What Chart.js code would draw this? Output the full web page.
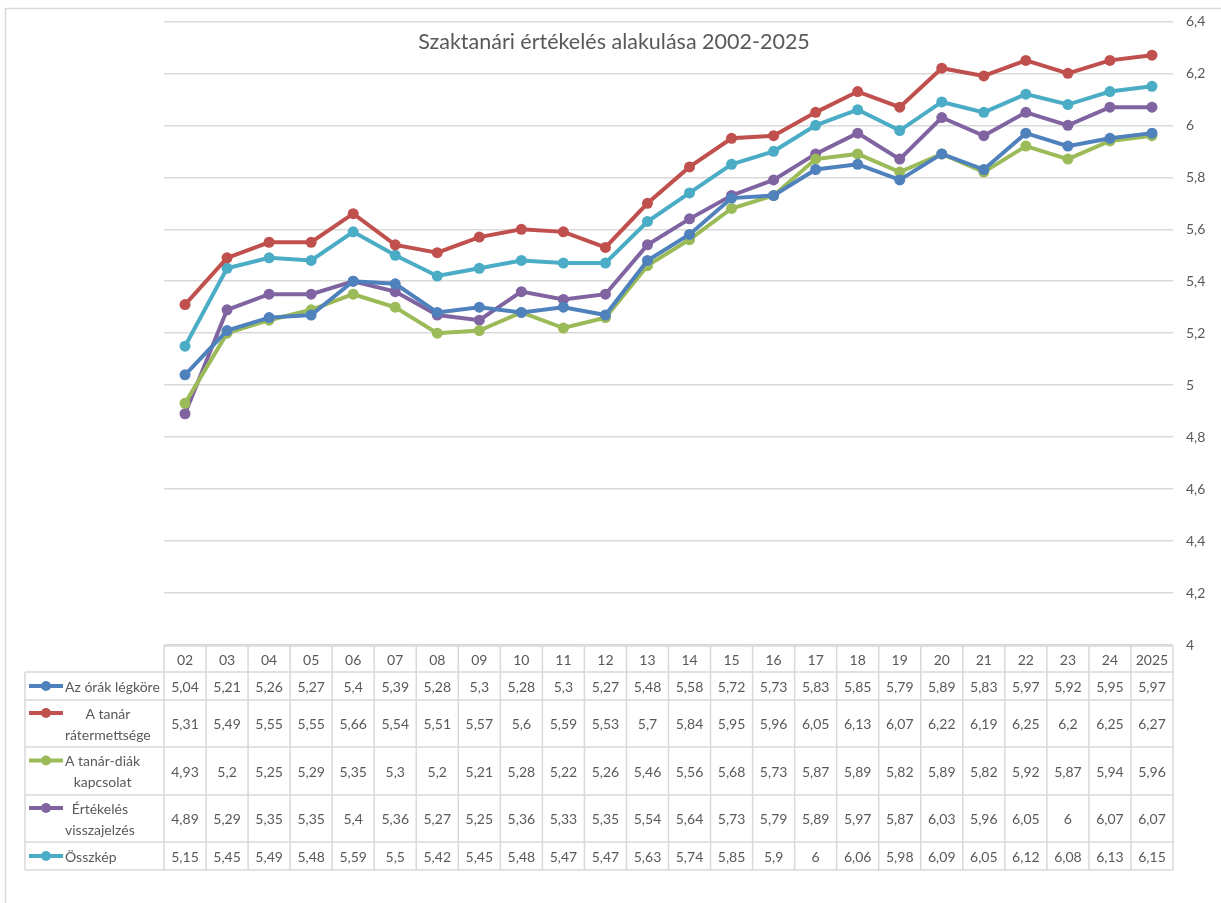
<!DOCTYPE html>
<html>
<head>
<meta charset="utf-8">
<script src="https://cdn.jsdelivr.net/npm/chart.js@4"></script>
<style>
    html, body { margin: 0; padding: 0; background: #fff; }
    #wrap { width: 1221px; height: 903px; }
</style>
</head>
<body>
<div id="wrap"><canvas id="chart" width="1221" height="903"></canvas></div>
<script>
// Years (table header labels)
const years = ['02', '03', '04', '05', '06', '07', '08', '09', '10', '11', '12', '13',
               '14', '15', '16', '17', '18', '19', '20', '21', '22', '23', '24', '2025'];

const legkor = [5.04, 5.21, 5.26, 5.27, 5.4, 5.39, 5.28, 5.3, 5.28, 5.3, 5.27, 5.48,
                5.58, 5.72, 5.73, 5.83, 5.85, 5.79, 5.89, 5.83, 5.97, 5.92, 5.95, 5.97];
const ratermettseg = [5.31, 5.49, 5.55, 5.55, 5.66, 5.54, 5.51, 5.57, 5.6, 5.59, 5.53, 5.7,
                      5.84, 5.95, 5.96, 6.05, 6.13, 6.07, 6.22, 6.19, 6.25, 6.2, 6.25, 6.27];
const kapcsolat = [4.93, 5.2, 5.25, 5.29, 5.35, 5.3, 5.2, 5.21, 5.28, 5.22, 5.26, 5.46,
                   5.56, 5.68, 5.73, 5.87, 5.89, 5.82, 5.89, 5.82, 5.92, 5.87, 5.94, 5.96];
const visszajelzes = [4.89, 5.29, 5.35, 5.35, 5.4, 5.36, 5.27, 5.25, 5.36, 5.33, 5.35, 5.54,
                      5.64, 5.73, 5.79, 5.89, 5.97, 5.87, 6.03, 5.96, 6.05, 6, 6.07, 6.07];
const osszkep = [5.15, 5.45, 5.49, 5.48, 5.59, 5.5, 5.42, 5.45, 5.48, 5.47, 5.47, 5.63,
                 5.74, 5.85, 5.9, 6, 6.06, 5.98, 6.09, 6.05, 6.12, 6.08, 6.13, 6.15];

const seriesNames = [['Az órák légköre'], ['A tanár', 'rátermettsége'], ['A tanár-diák', 'kapcsolat'],
                     ['Értékelés', 'visszajelzés'], ['Összkép']];
const seriesColors = ['#4F81BD', '#C0504D', '#9BBB59', '#8064A2', '#4BACC6'];

const TEXT = '#595959';
const GRID = '#d9d9d9';
const FONT = 'Lato, "Liberation Sans", sans-serif';

// table row boundaries (header + one row per series)
const rowEdges = [646, 672, 700, 747, 795, 842, 870];

const fmt = v => String(Math.round(v * 100) / 100).replace('.', ',');

const frame = {
    id: 'frame',
    beforeDraw(chart) {
        const ctx = chart.ctx;
        ctx.save();
        ctx.strokeStyle = GRID;
        ctx.lineWidth = 1.5;
        ctx.strokeRect(5.5, 8.5, 1400, 1000);
        ctx.restore();
    }
};

const titleAndTable = {
    id: 'titleAndTable',
    afterDraw(chart) {
        const ctx = chart.ctx;
        const x = chart.scales.x;
        const band = x.getPixelForValue(1) - x.getPixelForValue(0);
        const left = chart.chartArea.left;
        const right = chart.chartArea.right;
        ctx.save();

        // title
        ctx.fillStyle = TEXT;
        ctx.font = '21.5px ' + FONT;
        ctx.textAlign = 'center';
        ctx.textBaseline = 'middle';
        ctx.fillText('Szaktanári értékelés alakulása 2002-2025', 614, 42);

        // borders
        ctx.strokeStyle = GRID;
        ctx.lineWidth = 1.5;
        ctx.beginPath();
        ctx.moveTo(left, rowEdges[0]);
        ctx.lineTo(right, rowEdges[0]);
        for (let r = 1; r < rowEdges.length; r++) {
            ctx.moveTo(25, rowEdges[r]);
            ctx.lineTo(right, rowEdges[r]);
        }
        ctx.moveTo(25, rowEdges[1]);
        ctx.lineTo(25, rowEdges[rowEdges.length - 1]);
        for (let i = 0; i <= years.length; i++) {
            const px = i < years.length ? x.getPixelForValue(i) - band / 2 : right;
            ctx.moveTo(px, rowEdges[0]);
            ctx.lineTo(px, rowEdges[rowEdges.length - 1]);
        }
        ctx.stroke();

        // header
        ctx.font = '14px ' + FONT;
        ctx.fillStyle = TEXT;
        ctx.textAlign = 'center';
        years.forEach((y, i) => {
            ctx.fillText(y, x.getPixelForValue(i), (rowEdges[0] + rowEdges[1]) / 2 + 1);
        });

        // rows
        chart.data.datasets.forEach((ds, s) => {
            const top = rowEdges[s + 1], bot = rowEdges[s + 2];
            const mid = (top + bot) / 2 + 1;
            ds.data.forEach((v, i) => {
                ctx.textAlign = 'center';
                ctx.fillText(fmt(v), x.getPixelForValue(i), mid);
            });

            const lines = seriesNames[s];
            const lh = 21;
            const firstY = mid - (lines.length - 1) * lh / 2;
            // legend marker
            ctx.strokeStyle = seriesColors[s];
            ctx.lineWidth = 4;
            ctx.beginPath();
            ctx.moveTo(29, firstY - 1);
            ctx.lineTo(63, firstY - 1);
            ctx.stroke();
            ctx.fillStyle = seriesColors[s];
            ctx.beginPath();
            ctx.arc(46, firstY - 1, 5, 0, Math.PI * 2);
            ctx.fill();

            ctx.fillStyle = TEXT;
            const maxW = Math.max(...lines.map(t => ctx.measureText(t).width));
            lines.forEach((t, k) => {
                ctx.textAlign = 'center';
                ctx.fillText(t, 65 + maxW / 2, firstY + k * lh);
            });
        });
        ctx.restore();
    }
};

const allSeries = [legkor, ratermettseg, kapcsolat, visszajelzes, osszkep];

new Chart(document.getElementById('chart'), {
    type: 'line',
    data: {
        labels: years,
        datasets: allSeries.map((d, i) => ({
            label: seriesNames[i].join(' '),
            data: d,
            borderColor: seriesColors[i],
            backgroundColor: seriesColors[i],
            borderWidth: 4,
            pointRadius: 5.5,
            pointBorderWidth: 0,
            tension: 0,
            fill: false
        }))
    },
    options: {
        responsive: false,
        animation: false,
        layout: {
            padding: { left: 164, top: 19, right: 0, bottom: 258 }
        },
        plugins: {
            legend: { display: false },
            title: { display: false },
            tooltip: { enabled: false }
        },
        scales: {
            x: {
                type: 'category',
                display: false,
                offset: true
            },
            y: {
                position: 'right',
                min: 4,
                max: 6.4,
                afterFit: s => { s.width = 48; },
                grid: { color: GRID, lineWidth: 1.5, drawTicks: false },
                border: { display: false },
                ticks: {
                    stepSize: 0.2,
                    padding: 13,
                    color: TEXT,
                    font: { family: 'Lato', size: 14 },
                    callback: v => fmt(Math.round(v * 10) / 10)
                }
            }
        }
    },
    plugins: [frame, titleAndTable]
});
</script>
</body>
</html>
